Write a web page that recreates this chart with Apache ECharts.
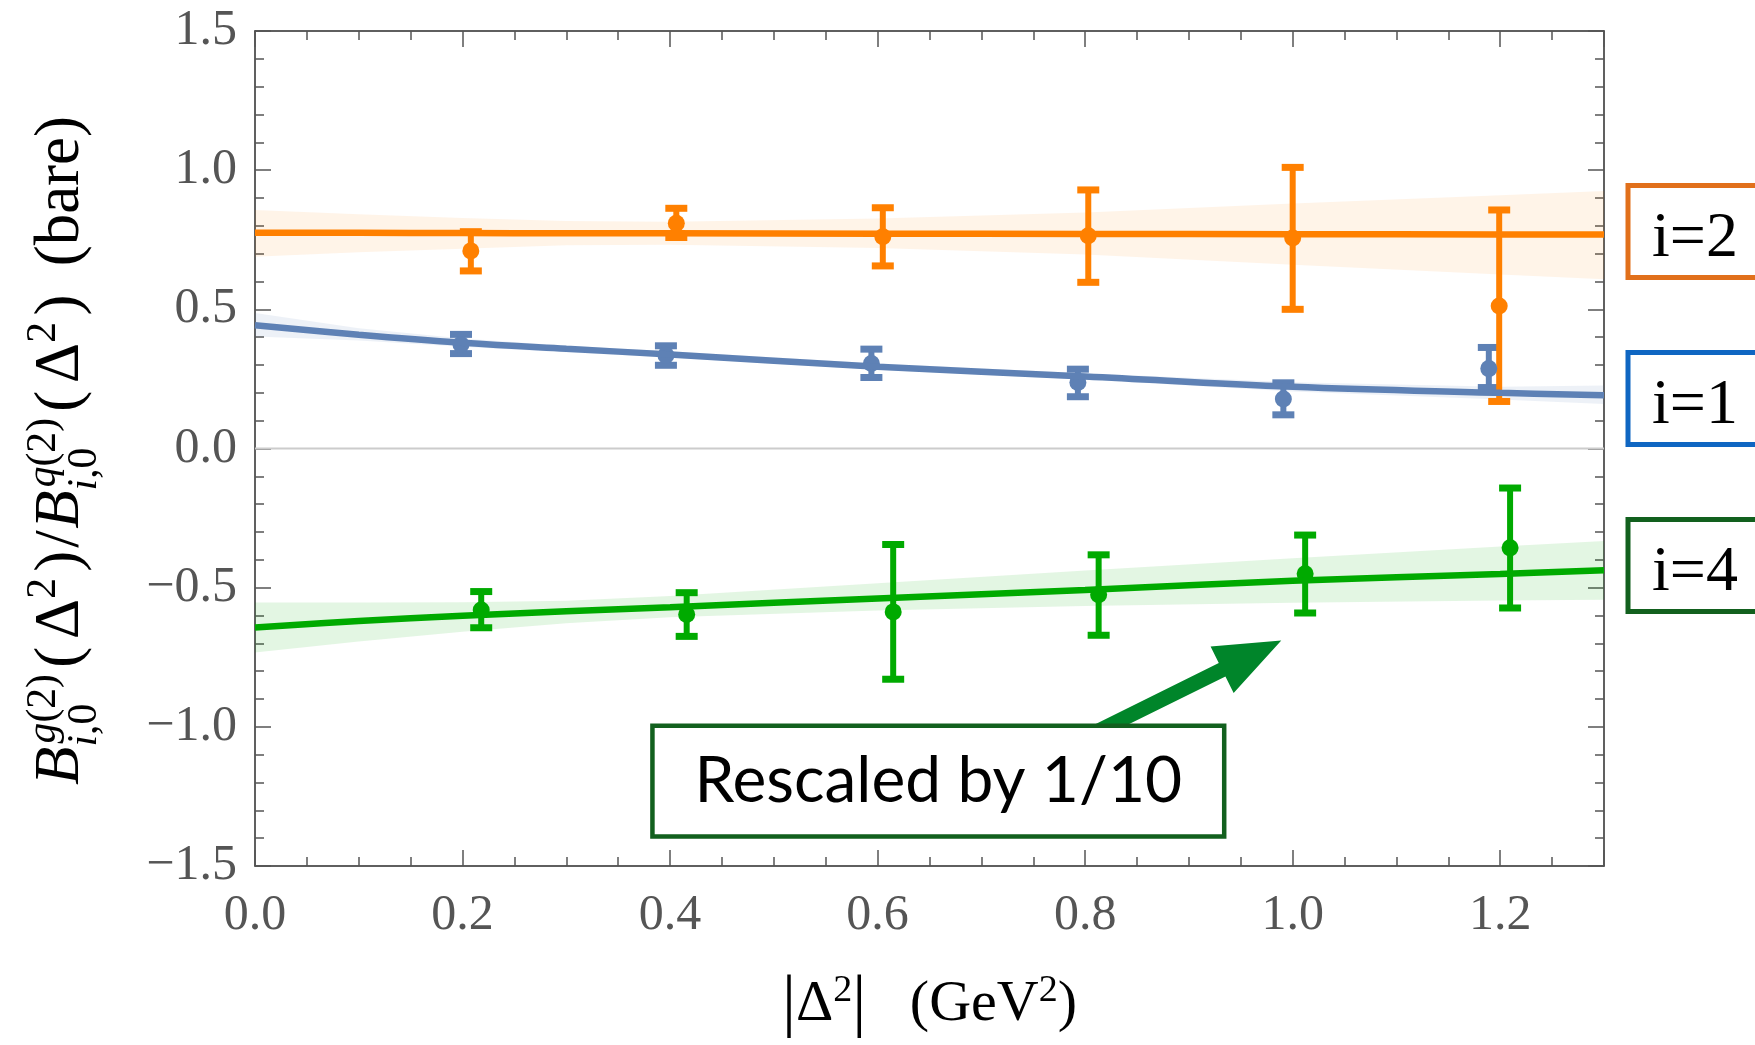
<!DOCTYPE html>
<html>
<head>
<meta charset="utf-8">
<title>B ratio vs momentum transfer</title>
<script src="https://cdn.jsdelivr.net/npm/echarts@6/dist/echarts.min.js"></script>
<style>
  html, body { margin: 0; padding: 0; background: #ffffff; }
  #chart { width: 1755px; height: 1045px; }
</style>
</head>
<body>
<div id="chart"></div>
<script>
// ---------------- data ----------------
// lattice points: |Δ²| (GeV²), central value, error-bar low / high
const i2X  = [0.208, 0.406, 0.605, 0.803, 1.000, 1.199];
const i2Y  = [0.710, 0.809, 0.761, 0.764, 0.756, 0.512];
const i2Lo = [0.638, 0.758, 0.656, 0.597, 0.500, 0.169];
const i2Hi = [0.779, 0.863, 0.865, 0.929, 1.010, 0.857];

const i1X  = [0.1985, 0.396, 0.594, 0.793, 0.991, 1.189];
const i1Y  = [0.374, 0.335, 0.305, 0.237, 0.178, 0.287];
const i1Lo = [0.341, 0.299, 0.255, 0.186, 0.121, 0.219];
const i1Hi = [0.410, 0.369, 0.357, 0.285, 0.236, 0.363];

const i4X  = [0.218, 0.416, 0.615, 0.813, 1.012, 1.2095];
const i4Y  = [-0.580, -0.596, -0.587, -0.525, -0.450, -0.357];
const i4Lo = [-0.644, -0.675, -0.829, -0.671, -0.591, -0.573];
const i4Hi = [-0.514, -0.518, -0.345, -0.382, -0.311, -0.142];

// fitted curves and their error bands, sampled along |Δ²|
const fitX     = [0, 0.1, 0.2, 0.3, 0.4, 0.6, 0.8, 1.0, 1.2, 1.3];
const i2Fit    = [0.775, 0.775, 0.774, 0.773, 0.773, 0.772, 0.771, 0.770, 0.769, 0.769];
const i2BandHi = [0.857, 0.842, 0.828, 0.817, 0.815, 0.826, 0.848, 0.880, 0.910, 0.925];
const i2BandLo = [0.689, 0.705, 0.718, 0.730, 0.732, 0.720, 0.697, 0.660, 0.625, 0.608];

const i1Fit    = [0.443, 0.409, 0.380, 0.358, 0.338, 0.294, 0.259, 0.222, 0.200, 0.191];
const i1BandHi = [0.487, 0.432, 0.395, 0.369, 0.349, 0.305, 0.270, 0.238, 0.222, 0.226];
const i1BandLo = [0.402, 0.388, 0.366, 0.346, 0.327, 0.283, 0.248, 0.205, 0.176, 0.160];

const i4Fit    = [-0.643, -0.620, -0.601, -0.585, -0.570, -0.539, -0.508, -0.475, -0.451, -0.437];
const i4BandHi = [-0.553, -0.553, -0.552, -0.547, -0.530, -0.484, -0.438, -0.394, -0.352, -0.332];
const i4BandLo = [-0.733, -0.693, -0.658, -0.628, -0.606, -0.582, -0.566, -0.554, -0.546, -0.543];

// axis ranges
const xMin = 0, xMax = 1.3, xMajor = 0.2, xMinor = 0.05;
const yMin = -1.5, yMax = 1.5, yMajor = 0.5;

// curve labels on the right
const curveLabels = ['i=2', 'i=1', 'i=4'];
const noteText = 'Rescaled by 1/10';

// ---------------- styling ----------------
const ORANGE = '#FF8000', BLUE = '#5E81B5', GREEN = '#00AA00';
const SERIF = '"Liberation Serif", "Times New Roman", serif';
const frameLine = { color: '#2b2b2b', width: 1.5 };
const tickLine = { color: '#555555', width: 1.5 };

const chart = echarts.init(document.getElementById('chart'), null, { renderer: 'canvas' });

function bandSeries(name, lo, hi, fill) {
  return {
    type: 'custom', name: name, silent: true, clip: true,
    data: [[0, 0]],
    renderItem: function (params, api) {
      const pts = [];
      for (let i = 0; i < fitX.length; i++) pts.push(api.coord([fitX[i], hi[i]]));
      for (let i = fitX.length - 1; i >= 0; i--) pts.push(api.coord([fitX[i], lo[i]]));
      return { type: 'polygon', shape: { points: pts }, style: { fill: fill, stroke: null } };
    }
  };
}

function fitSeries(name, ys, color) {
  return {
    type: 'line', name: name, silent: true, smooth: 0.4,
    showSymbol: false, symbol: 'none',
    data: fitX.map((x, i) => [x, ys[i]]),
    lineStyle: { color: color, width: 6.5 },
    itemStyle: { color: color }
  };
}

function errSeries(name, xs, lo, hi, color) {
  return {
    type: 'custom', name: name, silent: true,
    data: xs.map((x, i) => [x, lo[i], hi[i]]),
    encode: { x: 0, y: [1, 2] },
    renderItem: function (params, api) {
      const x = api.value(0);
      const a = api.coord([x, api.value(2)]);
      const b = api.coord([x, api.value(1)]);
      const hw = 11;
      return {
        type: 'group',
        children: [
          { type: 'line', shape: { x1: a[0], y1: a[1], x2: b[0], y2: b[1] }, style: { stroke: color, lineWidth: 6 } },
          { type: 'line', shape: { x1: a[0] - hw, y1: a[1], x2: a[0] + hw, y2: a[1] }, style: { stroke: color, lineWidth: 7 } },
          { type: 'line', shape: { x1: b[0] - hw, y1: b[1], x2: b[0] + hw, y2: b[1] }, style: { stroke: color, lineWidth: 7 } }
        ]
      };
    }
  };
}

function pointSeries(name, xs, ys, color) {
  return {
    type: 'scatter', name: name, silent: true,
    symbol: 'circle', symbolSize: 17,
    data: xs.map((x, i) => [x, ys[i]]),
    itemStyle: { color: color, opacity: 1 }
  };
}

const onMajor = (v, step) => Math.abs(v / step - Math.round(v / step)) < 1e-6;
const fmt = v => (v < 0 ? '\u2212' + Math.abs(v).toFixed(1) : v.toFixed(1));

function xAxisDef(position, interval, major) {
  return {
    type: 'value', position: position, min: xMin, max: xMax, interval: interval,
    axisLine: { show: major, onZero: false, lineStyle: frameLine },
    axisTick: { show: true, inside: true, length: major ? 16 : 9, lineStyle: tickLine },
    axisLabel: { show: false },
    splitLine: { show: false }
  };
}

const xMain = xAxisDef('bottom', xMajor, true);
xMain.axisLabel = {
  show: true, margin: 25, fontFamily: SERIF, fontSize: 50, color: '#555555',
  formatter: v => (onMajor(v, xMajor) ? v.toFixed(1) : '')
};
xMain.name = '{b||}{a|\u0394}{s|2}{b||}{a|   (GeV}{s|2}{a|)}';
xMain.nameLocation = 'middle';
xMain.nameGap = 106;
xMain.nameTextStyle = {
  rich: {
    a: { fontFamily: SERIF, fontSize: 58, lineHeight: 66, color: '#000000', verticalAlign: 'middle' },
    b: { fontFamily: SERIF, fontSize: 70, lineHeight: 66, color: '#000000', verticalAlign: 'middle' },
    s: { fontFamily: SERIF, fontSize: 38, lineHeight: 34, color: '#000000', verticalAlign: 'top' }
  }
};

function yAxisDef(position, labels) {
  return {
    type: 'value', position: position, min: yMin, max: yMax, interval: yMajor,
    axisLine: { show: true, onZero: false, lineStyle: frameLine },
    axisTick: { show: true, inside: true, length: 16, lineStyle: tickLine },
    minorTick: { show: true, splitNumber: 5, length: 9, lineStyle: tickLine },
    axisLabel: labels
      ? { show: true, margin: 18, fontFamily: SERIF, fontSize: 50, color: '#555555', formatter: fmt }
      : { show: false },
    splitLine: { show: false }
  };
}

const option = {
  animation: false,
  backgroundColor: '#ffffff',
  grid: { left: 255, right: 151, top: 31, bottom: 177.5, containLabel: false },
  xAxis: [
    xMain,
    xAxisDef('bottom', xMinor, false),
    xAxisDef('top', xMajor, true),
    xAxisDef('top', xMinor, false)
  ],
  yAxis: [yAxisDef('left', true), yAxisDef('right', false)],
  series: [
    bandSeries('i=1 band', i1BandLo, i1BandHi, 'rgba(94,129,181,0.11)'),
    bandSeries('i=4 band', i4BandLo, i4BandHi, 'rgba(0,170,0,0.11)'),
    bandSeries('i=2 band', i2BandLo, i2BandHi, 'rgba(255,128,0,0.09)'),
    {
      type: 'line', name: 'zero', silent: true, showSymbol: false, symbol: 'none',
      data: [[xMin, 0], [xMax, 0]],
      lineStyle: { color: '#cccccc', width: 2 }
    },
    fitSeries('i=4 fit', i4Fit, GREEN),
    errSeries('i=4 err', i4X, i4Lo, i4Hi, GREEN),
    pointSeries('i=4', i4X, i4Y, GREEN),
    fitSeries('i=1 fit', i1Fit, BLUE),
    errSeries('i=1 err', i1X, i1Lo, i1Hi, BLUE),
    pointSeries('i=1', i1X, i1Y, BLUE),
    fitSeries('i=2 fit', i2Fit, ORANGE),
    errSeries('i=2 err', i2X, i2Lo, i2Hi, ORANGE),
    pointSeries('i=2', i2X, i2Y, ORANGE)
  ]
};

chart.setOption(option);

// ---------------- annotations ----------------
const toPx = (x, y) => chart.convertToPixel({ seriesIndex: 12 }, [x, y]);

// y-axis title built from pieces so the scripts can stack
const mctx = document.createElement('canvas').getContext('2d');
function fontStr(size, italic) { return (italic ? 'italic ' : '') + size.toFixed(2) + 'px ' + SERIF; }
function textW(t, size, italic) { mctx.font = fontStr(size, italic); return mctx.measureText(t).width; }

function buildYTitle(F) {
  const S = F * 0.66;
  const up = -0.40 * F, down = 0.25 * F;
  const children = [];
  let cx = 0;
  function put(t, size, italic, dy, x) {
    children.push({
      type: 'text', x: x, y: dy - 0.3375 * size, silent: true,
      style: {
        text: t, fontSize: size, fontFamily: SERIF,
        fontStyle: italic ? 'italic' : 'normal', fontWeight: 'normal',
        fill: '#000000', align: 'left', verticalAlign: 'middle'
      }
    });
    return textW(t, size, italic);
  }
  function run(t, italic) { cx += put(t, F, italic, 0, cx); }
  function runs(list, size, dy, x0) {
    let x = x0;
    for (const [t, it] of list) x += put(t, size, it, dy, x);
    return x - x0;
  }
  function stack(supList, subList) {
    const w1 = runs(supList, S, up, cx + 0.05 * F) + 0.05 * F;
    const w2 = runs(subList, S, down, cx);
    cx += Math.max(w1, w2);
  }
  function gap(e) { cx += e * F; }
  function sup(t) { cx += put(t, S, false, up, cx); }
  function delta2() { gap(0.1); run('(', false); gap(0.12); run('\u0394', false); sup('2'); gap(0.1); run(')', false); }

  run('B', true);
  stack([['g', true], ['(2)', false]], [['i', true], [',0', false]]);
  delta2();
  gap(0.05); run('/', false); gap(0.02);
  run('B', true);
  stack([['q', true], ['(2)', false]], [['i', true], [',0', false]]);
  delta2();
  gap(0.45); run('(bare)', false);
  return { children: children, width: cx };
}

let yt = buildYTitle(60);
yt = buildYTitle(60 * 669 / yt.width);

const graphics = [];
graphics.push({
  type: 'group', x: 83, y: 785, rotation: Math.PI / 2, silent: true,
  children: yt.children
});

// arrow pointing at the i=4 points
const arrowStart = toPx(0.81, -1.02);
const arrowTip = toPx(0.989, -0.690);
(function () {
  const dx = arrowTip[0] - arrowStart[0], dy = arrowTip[1] - arrowStart[1];
  const L = Math.hypot(dx, dy);
  const u = [dx / L, dy / L], n = [-u[1], u[0]];
  const hl = 66, hw = 26, sw = 7.5;
  const B = [arrowTip[0] - u[0] * hl, arrowTip[1] - u[1] * hl];
  const P = (p, k) => [p[0] + n[0] * k, p[1] + n[1] * k];
  graphics.push({
    type: 'polygon', silent: true, z: 100,
    shape: { points: [P(arrowStart, sw), P(B, sw), P(B, hw), arrowTip, P(B, -hw), P(B, -sw), P(arrowStart, -sw)] },
    style: { fill: '#00852A', stroke: null }
  });
})();

// boxed note
const boxTL = toPx(0.383, -0.996);
const boxBR = toPx(0.934, -1.394);
graphics.push({
  type: 'rect', silent: true, z: 101,
  shape: { x: boxTL[0], y: boxTL[1], width: boxBR[0] - boxTL[0], height: boxBR[1] - boxTL[1] },
  style: { fill: '#ffffff', stroke: '#12601E', lineWidth: 4.5 }
});
graphics.push({
  type: 'text', silent: true, z: 102,
  x: (boxTL[0] + boxBR[0]) / 2, y: (boxTL[1] + boxBR[1]) / 2,
  style: { text: noteText, fontSize: 64, fontFamily: 'Lato, "Open Sans", sans-serif', fill: '#000000', align: 'center', verticalAlign: 'middle' }
});

// curve labels to the right of the frame
const labelColors = ['#E1701B', '#0F66C2', '#12601E'];
const labelAnchors = [0.78, 0.18, -0.42];
const frameRight = toPx(xMax, 0)[0];
curveLabels.forEach(function (txt, k) {
  const cy = toPx(xMax, labelAnchors[k])[1];
  graphics.push({
    type: 'rect', silent: true, z: 101,
    shape: { x: frameRight + 24, y: cy - 46, width: 220, height: 92 },
    style: { fill: '#ffffff', stroke: labelColors[k], lineWidth: 5 }
  });
  graphics.push({
    type: 'text', silent: true, z: 102,
    x: frameRight + 48, y: cy + 8,
    style: { text: txt, fontSize: 64, fontFamily: SERIF, fill: '#000000', align: 'left', verticalAlign: 'middle' }
  });
});

chart.setOption({ graphic: graphics });
</script>
</body>
</html>
